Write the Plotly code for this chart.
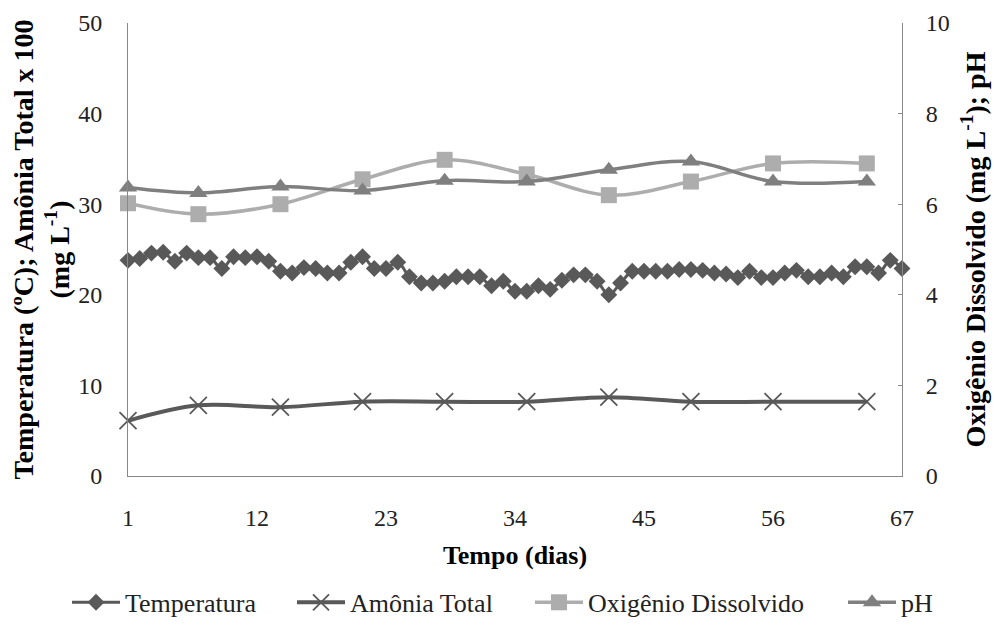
import plotly.graph_objects as go

# ---- data ----
temp_days = list(range(1, 68))
temperatura = [23.8, 24.0, 24.6, 24.7, 23.7, 24.6, 24.1, 24.1, 22.9, 24.2,
               24.1, 24.2, 23.7, 22.6, 22.4, 23.0, 22.9, 22.4, 22.4, 23.6,
               24.2, 22.9, 22.9, 23.6, 22.0, 21.3, 21.3, 21.5, 22.0, 22.0,
               22.0, 21.0, 21.5, 20.4, 20.4, 21.0, 20.6, 21.6, 22.2, 22.2,
               21.5, 20.0, 21.3, 22.6, 22.6, 22.6, 22.6, 22.8, 22.8, 22.7,
               22.4, 22.3, 21.9, 22.6, 21.9, 21.9, 22.4, 22.7, 22.0, 22.0,
               22.4, 22.0, 23.1, 23.1, 22.4, 23.8, 22.9]

weekly_days = [1, 7, 14, 21, 28, 35, 42, 49, 56, 64]
amonia_total = [6.1, 7.8, 7.6, 8.2, 8.2, 8.2, 8.7, 8.2, 8.2, 8.2]
oxigenio = [6.02, 5.78, 6.0, 6.55, 6.98, 6.66, 6.2, 6.5, 6.9, 6.9]
ph = [6.37, 6.25, 6.39, 6.3, 6.52, 6.5, 6.76, 6.94, 6.5, 6.5]

x_ticks = [1, 12, 23, 34, 45, 56, 67]
y_left_ticks = [0, 10, 20, 30, 40, 50]
y_right_ticks = [0, 2, 4, 6, 8, 10]

FONT = "Liberation Serif"

fig = go.Figure()

fig.add_trace(go.Scatter(
    x=temp_days, y=temperatura, name="Temperatura", mode="lines+markers",
    legend="legend", cliponaxis=False,
    line=dict(color="#595959", width=3, shape="spline"),
    marker=dict(symbol="diamond", size=13, color="#595959"),
))
fig.add_trace(go.Scatter(
    x=weekly_days, y=amonia_total, name="Amônia Total", mode="lines+markers",
    legend="legend2", cliponaxis=False,
    line=dict(color="#595959", width=4, shape="spline"),
    marker=dict(symbol="x-thin", size=17, color="#595959",
                line=dict(color="#595959", width=1.8)),
))
fig.add_trace(go.Scatter(
    x=weekly_days, y=oxigenio, name="Oxigênio Dissolvido", mode="lines+markers",
    yaxis="y2", legend="legend3", cliponaxis=False,
    line=dict(color="#ADADAD", width=3.5, shape="spline"),
    marker=dict(symbol="square", size=16, color="#ADADAD"),
))
fig.add_trace(go.Scatter(
    x=weekly_days, y=ph, name="pH", mode="lines+markers",
    yaxis="y2", legend="legend4", cliponaxis=False,
    line=dict(color="#7F7F7F", width=3.5, shape="spline"),
    marker=dict(symbol="triangle-up", size=16, color="#7F7F7F"),
))

LEG_Y = -0.279
def leg(xpos):
    return dict(orientation="h", x=xpos, xanchor="left", y=LEG_Y, yanchor="middle",
                font=dict(family=FONT, size=26, color="#222222"),
                itemwidth=48, bgcolor="rgba(0,0,0,0)")

fig.update_layout(
    width=994, height=627,
    margin=dict(l=128, r=92, t=23, b=151, autoexpand=False),
    paper_bgcolor="white", plot_bgcolor="white",
    font=dict(family=FONT, size=24, color="#222222"),
    showlegend=True,
    legend=leg(-0.0788),
    legend2=leg(0.2119),
    legend3=leg(0.5194),
    legend4=leg(0.9238),
    xaxis=dict(range=[1, 67], tickvals=x_ticks, ticktext=[str(t) for t in x_ticks],
               showgrid=False, zeroline=False, showline=True, linecolor="#888888",
               linewidth=1, ticks="", ticklabelstandoff=20,
               tickfont=dict(family=FONT, size=24, color="#222222"),
               title=dict(text="<b>Tempo (dias)</b>", standoff=16,
                          font=dict(family=FONT, size=26, color="#000000"))),
    yaxis=dict(range=[0, 50], tickvals=y_left_ticks, showgrid=False, zeroline=False,
               showline=True, linecolor="#888888", linewidth=1, ticks="",
               ticklabelstandoff=20,
               tickfont=dict(family=FONT, size=24, color="#222222"),
               title=dict(text="<b>Temperatura (ºC); Amônia Total x 100<br>(mg L<sup>-1</sup>)</b>",
                          standoff=0,
                          font=dict(family=FONT, size=28, color="#000000"))),
    yaxis2=dict(range=[0, 10], tickvals=y_right_ticks, overlaying="y", side="right",
                showgrid=False, zeroline=False, showline=True, linecolor="#888888",
                linewidth=1, ticks="inside", ticklen=4, tickcolor="#888888",
                ticklabelstandoff=18,
                tickfont=dict(family=FONT, size=24, color="#222222"),
                title=dict(text="<b>Oxigênio Dissolvido (mg L<sup>-1</sup>); pH</b>",
                           standoff=16,
                           font=dict(family=FONT, size=28, color="#000000"))),
)

fig.write_html("out.html")
